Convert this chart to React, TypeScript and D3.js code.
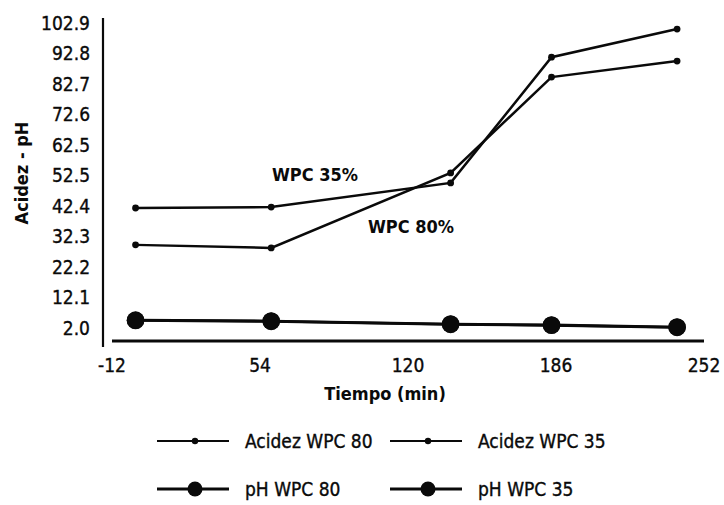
import React from 'react';
import * as d3 from 'd3';

// values
const times = [-1.5, 59, 139, 184, 240];
const acidezWpc80 = [29.5, 28.5, 53.3, 85.0, 90.3];
const acidezWpc35 = [41.7, 42.0, 50.0, 91.6, 100.9];
const phWpc80 = [4.6, 4.3, 3.3, 3.0, 2.3];
const phWpc35 = [4.5, 4.2, 3.2, 2.9, 2.2];

const xTicks = [-12, 54, 120, 186, 252];
const yTicks = [2.0, 12.1, 22.2, 32.3, 42.4, 52.5, 62.5, 72.6, 82.7, 92.8, 102.9];

const legendItems = [
    { label: 'Acidez WPC 80', big: false },
    { label: 'Acidez WPC 35', big: false },
    { label: 'pH WPC 80', big: true },
    { label: 'pH WPC 35', big: true },
];

const width = 724;
const height = 505;
const font = "'DejaVu Sans Condensed', 'DejaVu Sans', sans-serif";
const ink = '#0a0a0a';

const App: React.FC = () => {
    const x = d3.scaleLinear().domain([-12, 252]).range([112, 704]);
    const y = d3.scaleLinear().domain([-2.3, 102.9]).range([341, 23]);

    const line = d3.line<[number, number]>()
        .x(d => x(d[0]))
        .y(d => y(d[1]));

    const series = [
        { values: acidezWpc80, r: 3.4, sw: 2.5 },
        { values: acidezWpc35, r: 3.4, sw: 2.5 },
        { values: phWpc80, r: 8.8, sw: 2.8 },
        { values: phWpc35, r: 8.8, sw: 2.8 },
    ];

    // legend positions: two columns, two rows
    const legX = [157, 390];
    const legY = [441, 489];

    // scanned text looks a bit heavier than the regular face
    const heavy = { stroke: ink, strokeWidth: 0.35 };

    return (
        <div style={{ position: 'fixed', left: 0, top: 0 }}>
            <svg width={width} height={height} style={{ display: 'block', background: '#fff' }}
                fontFamily={font} fontStretch="condensed">
                {/* axes */}
                <line x1={103} x2={103} y1={18} y2={347} stroke={ink} strokeWidth={2.2} />
                <line x1={112} x2={704} y1={341} y2={341} stroke={ink} strokeWidth={3} />

                {yTicks.map(t => (
                    <text key={t} x={90} y={y(t)} dy="0.35em" textAnchor="end"
                        fontSize={19} fill={ink} {...heavy}>{t.toFixed(1)}</text>
                ))}
                {xTicks.map(t => (
                    <text key={t} x={x(t)} y={365} dy="0.35em" textAnchor="middle"
                        fontSize={19} fill={ink} {...heavy}>{t}</text>
                ))}

                <text transform="translate(22,173) rotate(-90)" textAnchor="middle" dy="0.35em"
                    fontSize={18} fontWeight="bold" fill={ink}>Acidez - pH</text>
                <text x={385} y={394} textAnchor="middle" dy="0.35em"
                    fontSize={18} fontWeight="bold" fill={ink}>Tiempo (min)</text>

                {/* series */}
                {series.map((s, i) => {
                    const pts = times.map((t, j) => [t, s.values[j]] as [number, number]);
                    return (
                        <g key={i}>
                            <path d={line(pts) ?? ''} fill="none" stroke={ink} strokeWidth={s.sw} />
                            {pts.map((p, j) => (
                                <circle key={j} cx={x(p[0])} cy={y(p[1])} r={s.r} fill={ink} />
                            ))}
                        </g>
                    );
                })}

                <text x={272} y={175} dy="0.35em" fontSize={18} fontWeight="bold" fill={ink}>WPC 35%</text>
                <text x={368} y={227} dy="0.35em" fontSize={18} fontWeight="bold" fill={ink}>WPC 80%</text>

                {/* legend */}
                {legendItems.map((item, i) => {
                    const lx = legX[i % 2];
                    const ly = legY[Math.floor(i / 2)];
                    return (
                        <g key={item.label}>
                            <line x1={lx} x2={lx + 72} y1={ly} y2={ly} stroke={ink}
                                strokeWidth={item.big ? 2.8 : 2.2} />
                            <circle cx={lx + 38} cy={ly} r={item.big ? 7.5 : 3.2} fill={ink} />
                            <text x={lx + 88} y={ly} dy="0.35em" fontSize={19} fill={ink}
                                {...heavy}>{item.label}</text>
                        </g>
                    );
                })}
            </svg>
        </div>
    );
};

export default App;
